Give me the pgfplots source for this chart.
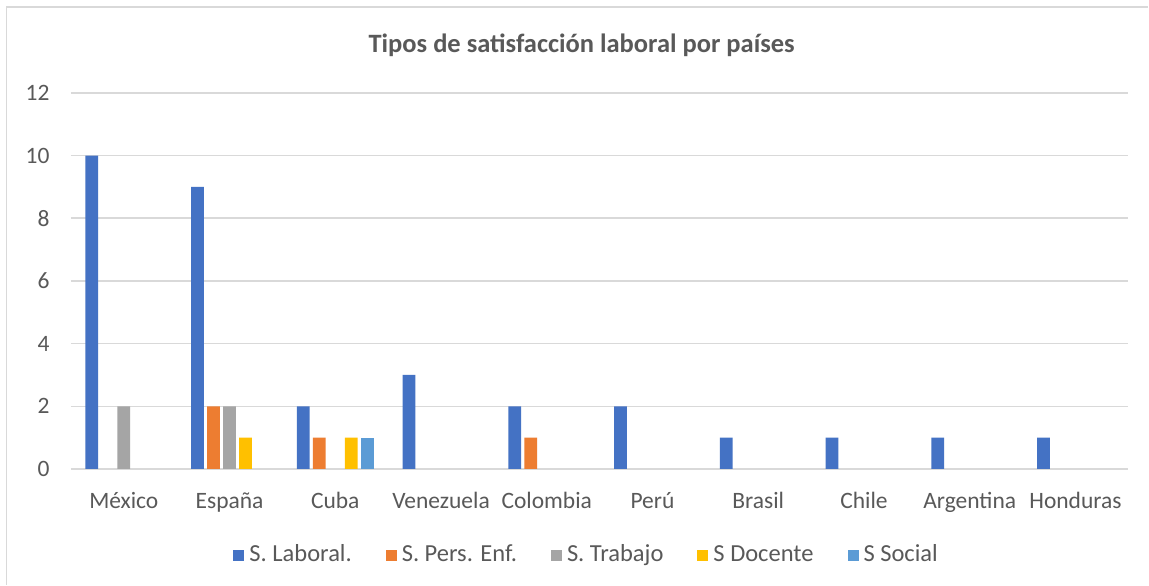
\documentclass[border=0pt]{standalone}
\usepackage{pgfplots}
\pgfplotsset{compat=1.18}
\usepackage{fontspec}
\setmainfont{Carlito}
\definecolor{cA}{HTML}{4472C4}
\definecolor{cB}{HTML}{ED7D31}
\definecolor{cC}{HTML}{A5A5A5}
\definecolor{cD}{HTML}{FFC000}
\definecolor{cE}{HTML}{5B9BD5}
\definecolor{txt}{HTML}{595959}
\definecolor{gridc}{HTML}{D9D9D9}
\begin{document}
\begin{tikzpicture}
\path[fill=white] (0pt,0pt) rectangle (1149pt,585pt);
\draw[gridc,line width=1.5pt] (6.5pt,0pt) -- (6.5pt,578pt) -- (1149pt,578pt);
\node[font=\fontsize{26.5}{32}\selectfont\bfseries, text=txt] at (582pt,540pt) {Tipos de satisfacción laboral por países};
\begin{axis}[
  at={(71pt,115.7pt)}, anchor=south west,
  scale only axis, width=1058pt, height=376.4pt,
  xmin=-0.5, xmax=9.5, ymin=0, ymax=12,
  ytick={0,2,4,6,8,10,12},
  xtick={0,...,9},
  xticklabels={México,España,Cuba,Venezuela,Colombia,Perú,Brasil,Chile,Argentina,Honduras},
  axis line style={draw=none},
  major tick length=0pt,
  ymajorgrids, grid style={gridc, line width=1.5pt},
  /pgf/number format/assume math mode=true,
  tick label style={font=\fontsize{23.5}{28}\selectfont, text=txt},
  yticklabel style={xshift=-18pt},
  xticklabel style={yshift=-20pt},
  ybar=3.3pt, bar width=12.7pt,
  every axis plot/.append style={draw=none},
  y filter/.expression={y==0 ? nan : y},
  legend columns=5,
  legend style={draw=none, fill=none, at={(0.4877,-0.238)}, anchor=center,
    font=\fontsize{24.5}{29}\selectfont, text=txt,
    nodes={text depth=0.3em, text height=0.75em},
    /tikz/every odd column/.append style={column sep=3pt},
    /tikz/every even column/.append style={column sep=32pt}},
  legend image code/.code={\fill[#1,draw=none] (0pt,-1.5pt) rectangle (11pt,9.5pt);},
]
\addplot[fill=cA] coordinates {(0,10) (1,9) (2,2) (3,3) (4,2) (5,2) (6,1) (7,1) (8,1) (9,1)};
\addplot[fill=cB] coordinates {(0,0) (1,2) (2,1) (3,0) (4,1) (5,0) (6,0) (7,0) (8,0) (9,0)};
\addplot[fill=cC] coordinates {(0,2) (1,2) (2,0) (3,0) (4,0) (5,0) (6,0) (7,0) (8,0) (9,0)};
\addplot[fill=cD] coordinates {(0,0) (1,1) (2,1) (3,0) (4,0) (5,0) (6,0) (7,0) (8,0) (9,0)};
\addplot[fill=cE] coordinates {(0,0) (1,0) (2,1) (3,0) (4,0) (5,0) (6,0) (7,0) (8,0) (9,0)};
\legend{S. Laboral., S. Pers. Enf., S. Trabajo, S Docente, S Social}
\end{axis}
\end{tikzpicture}
\end{document}
